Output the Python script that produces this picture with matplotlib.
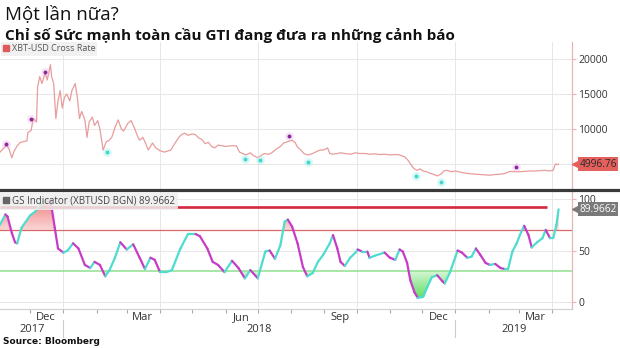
import matplotlib
matplotlib.use("Agg")
import matplotlib.pyplot as plt
import matplotlib.dates as mdates
from matplotlib.collections import LineCollection
from matplotlib.colors import LinearSegmentedColormap
from matplotlib.patches import PathPatch
from matplotlib.path import Path
from matplotlib.lines import Line2D
import numpy as np
import pandas as pd

# ---------------- data ----------------
start_date = "2017-11-03"
xlim_days = (0, 532.5)

price_days = [0, 3, 6, 8, 11, 13, 16, 19, 22, 25, 26, 29, 31, 34, 35, 37, 39, 42, 44, 47,
              48, 50, 52, 54, 56, 58, 60, 62, 65, 67, 70, 72, 74, 76, 79, 81, 83, 86, 88, 91,
              93, 96, 99, 101, 104, 107, 110, 113, 115, 119, 122, 125, 128, 130, 133, 136, 138, 142, 145, 149,
              153, 155, 159, 163, 167, 169, 172, 175, 179, 182, 185, 188, 191, 194, 197, 200, 203, 207, 210, 214,
              220, 223, 226, 229, 233, 236, 240, 243, 246, 250, 253, 257, 261, 264, 268, 272, 275, 277, 280, 283,
              286, 289, 291, 295, 298, 301, 304, 305, 307, 310, 314, 317, 321, 326, 331, 335, 340, 344, 349, 354,
              358, 363, 368, 372, 377, 380, 383, 385, 388, 391, 394, 397, 400, 404, 407, 411, 413, 416, 420, 424,
              428, 433, 438, 442, 447, 452, 456, 461, 466, 470, 475, 479, 484, 489, 493, 498, 503, 507, 512, 515,
              517, 519, 520]
price_vals = [6700, 7200, 7700, 7300, 5900, 6800, 7600, 8100, 8200, 8300,
              9500, 9800, 11500, 11000, 16000, 17500, 16500, 18000, 17000, 19200,
              17500, 16500, 11500, 14000, 15500, 13000, 14500, 15000, 14000, 15500,
              16500, 14500, 11500, 12500, 11300, 8800, 11000, 11700, 10500, 11200,
              10000, 7000, 8200, 8300, 8800, 10200, 11300, 10000, 9700, 10800,
              11200, 10200, 9000, 8400, 8800, 7800, 7000, 8000, 7300, 6900,
              6700, 6800, 7000, 8000, 8900, 9200, 9400, 9100, 9300, 9200,
              8700, 8500, 7900, 8100, 7500, 7300, 7700, 7600, 7500, 7600,
              7600, 6700, 6500, 6300, 6600, 6200, 5900, 6200, 6500, 6400,
              6600, 7100, 7500, 8000, 8200, 8400, 8000, 7400, 7000, 6500,
              6300, 6400, 6500, 6800, 7000, 7000, 7200, 7300, 6500, 6400,
              6500, 6600, 6500, 6400, 6600, 6500, 6500, 6400, 6450, 6350,
              6400, 6300, 6350, 6300, 6000, 5500, 4800, 4400, 4100, 4300,
              4000, 3900, 3700, 3500, 3300, 3600, 4000, 4100, 3900, 4000,
              3850, 3700, 3600, 3550, 3500, 3450, 3400, 3500, 3550, 3650,
              3950, 3900, 3900, 3950, 4000, 4000, 4050, 4100, 4000, 4100,
              5000, 4900, 4996.76]

overbought_days = [6, 29, 42, 269, 480]
overbought_vals = [7860, 11430, 18140, 9000, 4570]
oversold_days = [100, 228, 242, 287, 387, 411]
oversold_vals = [6710, 5710, 5570, 5290, 3290, 2430]

gs_days = [0, 5, 7, 11, 14, 16, 20, 28, 33, 37, 42, 45, 47, 51, 54, 59, 63, 68, 73, 79,
           84, 88, 93, 98, 102, 107, 112, 118, 124, 130, 135, 140, 144, 149, 155, 160, 168, 175, 182, 186,
           193, 198, 203, 209, 216, 222, 228, 233, 240, 247, 251, 256, 261, 265, 268, 272, 277, 282, 286, 291,
           296, 301, 307, 310, 314, 317, 321, 326, 331, 333, 337, 342, 344, 349, 358, 363, 368, 372, 375, 379,
           382, 386, 389, 394, 398, 402, 407, 412, 414, 419, 424, 426, 430, 435, 439, 443, 447, 452, 456, 461,
           466, 470, 473, 477, 481, 484, 488, 492, 495, 500, 505, 508, 512, 515, 518, 520]
gs_vals = [75, 85, 83, 67, 58, 57, 72, 84, 88, 94, 99, 100, 99, 72, 52, 48, 50, 57, 52, 36,
           33, 39, 36, 25, 31, 43, 58, 51, 56, 43, 32, 43, 41, 29, 29, 31, 52, 66, 66, 64,
           52, 39, 36, 29, 40, 33, 23, 31, 23, 49, 50, 42, 55, 78, 80, 73, 57, 34, 25, 28,
           39, 46, 57, 65, 52, 39, 35, 43, 48, 51, 49, 49, 43, 45, 48, 43, 41, 51, 49, 38,
           21, 9, 4, 5, 15, 24, 26, 20, 18, 29, 44, 50, 48, 43, 44, 52, 46, 38, 36, 37,
           33, 32, 32, 49, 57, 65, 74, 65, 53, 58, 62, 70, 62, 62, 75, 89.9662]

level_high = 92
level_high_end_day = 509
level_upper = 70
level_lower = 30

price_ticks = [5000, 10000, 15000, 20000]
price_ticklabels = ["", "10000", "15000", "20000"]
gs_ticks = [0, 50, 100]

title1 = "Một lần nữa?"
title2 = "Chỉ số Sức mạnh toàn cầu GTI đang đưa ra những cảnh báo"
legend1 = "XBT-USD Cross Rate"
legend2 = "GS Indicator (XBTUSD BGN) 89.9662"
source = "Source: Bloomberg"
price_last_label = "4996.76"
gs_last_label = "89.9662"
year_labels = ["2017", "2018", "2019"]

# ---------------- helpers ----------------
t0 = pd.Timestamp(start_date)
def to_dates(days):
    return mdates.date2num(t0 + pd.to_timedelta(np.asarray(days, dtype=float), unit="D"))

px = to_dates(price_days)
gx = to_dates(gs_days)
gy = np.asarray(gs_vals, dtype=float)
xl = to_dates(xlim_days)

TICKFONT = "Open Sans"
GRID = "#e7e7e7"
SPINE_R = "#e9b4b4"

W, H = 620, 348
fig = plt.figure(figsize=(W / 100, H / 100), dpi=100)
ax1 = fig.add_axes([0, 1 - 189 / H, 572 / W, (189 - 42) / H])
ax2 = fig.add_axes([0, 1 - 309 / H, 572 / W, (309 - 191) / H])

for ax in (ax1, ax2):
    ax.set_xlim(xl)
    for s in ("left", "top"):
        ax.spines[s].set_visible(False)
    ax.spines["right"].set_color(SPINE_R)
    ax.spines["right"].set_linewidth(0.9)
    ax.yaxis.tick_right()
    ax.tick_params(axis="y", which="both", direction="out", length=3, color=SPINE_R,
                   labelsize=7.5, labelcolor="#333333", pad=1.5)
    ax.grid(True, axis="y", color=GRID, lw=0.7, zorder=0)
    ax.set_axisbelow(True)
    for d in mdates.date2num(pd.to_datetime(["2018-01-01", "2018-04-01", "2018-07-01",
                                              "2018-10-01", "2019-01-01", "2019-04-01"])):
        ax.axvline(d, color=GRID, lw=0.7, zorder=0)

# ---------------- top panel ----------------
ax1.set_ylim(1430, 22430)
ax1.spines["bottom"].set_visible(False)
ax1.plot(px, price_vals, color="#e89c9c", lw=0.9, zorder=3)
ax1.scatter(to_dates(overbought_days), overbought_vals, s=40, color="#eab0ea", alpha=0.35, lw=0, zorder=4)
ax1.scatter(to_dates(overbought_days), overbought_vals, s=8, color="#8a2a9a", lw=0, zorder=5)
ax1.scatter(to_dates(oversold_days), oversold_vals, s=40, color="#a8f0ea", alpha=0.45, lw=0, zorder=4)
ax1.scatter(to_dates(oversold_days), oversold_vals, s=8, color="#3fd8cc", lw=0, zorder=5)
ax1.set_yticks(price_ticks)
ax1.set_yticklabels(price_ticklabels, family=TICKFONT)
ax1.tick_params(axis="x", which="both", length=0, labelbottom=False)

leg1 = ax1.legend(handles=[Line2D([], [], marker="s", ls="none", color="#e05a5a", markersize=4.5)],
                  labels=[legend1], loc="upper left", bbox_to_anchor=(0.002, 1.0),
                  frameon=True, fancybox=False, handlelength=0.6, handletextpad=0.3,
                  borderpad=0.25, borderaxespad=0.0,
                  prop={"family": TICKFONT, "size": 6.5})
leg1.get_frame().set_facecolor("#f0f0f0")
leg1.get_frame().set_edgecolor("none")
leg1.get_frame().set_alpha(0.9)
for t in leg1.get_texts():
    t.set_color("#555555")

# last price tag
ytr1 = ax1.get_yaxis_transform()
ax1.plot([1.009], [price_vals[-1]], marker="<", markersize=7, color="#e4605c", ls="none",
         transform=ytr1, clip_on=False, zorder=6)
ax1.text(1.013, price_vals[-1], price_last_label, transform=ytr1, va="center", ha="left",
         fontsize=7.3, family=TICKFONT, color="#2a2a2a", clip_on=False, zorder=7,
         bbox=dict(boxstyle="square,pad=0.15", fc="#e4605c", ec="none"))

# ---------------- bottom panel ----------------
ax2.spines["bottom"].set_color("#cfcfcf")
ax2.set_yticks(gs_ticks)
ax2.set_yticklabels([str(v) for v in gs_ticks], family=TICKFONT)


def grad_fill(ax, x, y, base, above, c_far, c_near, far_val):
    poly = ax.fill_between(x, y, base, where=(y > base) if above else (y < base),
                           interpolate=True, color="none", lw=0)
    lo, hi = (base, far_val) if above else (far_val, base)
    vals = np.linspace(0, 1, 64)
    if above:
        vals = vals[::-1]
    cmap = LinearSegmentedColormap.from_list("g", [c_near, c_far])
    img = ax.imshow(vals.reshape(-1, 1), cmap=cmap, aspect="auto", origin="upper",
                    extent=[x[0], x[-1], lo, hi], zorder=1, interpolation="bilinear")
    paths = poly.get_paths()
    if paths:
        verts = np.concatenate([p.vertices for p in paths])
        codes = np.concatenate([p.codes if p.codes is not None else
                                np.r_[Path.MOVETO, [Path.LINETO] * (len(p.vertices) - 1)]
                                for p in paths])
        patch = PathPatch(Path(verts, codes), transform=ax.transData, fc="none", ec="none")
        ax.add_patch(patch)
        img.set_clip_path(patch)


grad_fill(ax2, gx, gy, level_upper, True, "#f07c7c", "#fbd6d6", 101)
grad_fill(ax2, gx, gy, level_lower, False, "#5fdc5f", "#d4f7d4", 3)
ax2.set_xlim(xl)
ax2.set_ylim(-6.8, 107.8)

ax2.axhline(level_upper, color="#d86868", lw=0.9, zorder=2)
ax2.axhline(level_lower, color="#8fe08f", lw=1.1, zorder=2)
ax2.plot([xl[0], to_dates([level_high_end_day])[0]], [level_high, level_high],
         color="#d4283f", lw=1.9, zorder=2, solid_capstyle="butt")

# direction-coloured indicator line
pts = np.column_stack([gx, gy])
segs = np.stack([pts[:-1], pts[1:]], axis=1)
cols = ["#4fdccf" if b >= a else "#c63cc6" for a, b in zip(gy[:-1], gy[1:])]
lc = LineCollection(segs, colors=cols, linewidths=1.6, zorder=4, capstyle="round", joinstyle="round")
ax2.add_collection(lc)

leg2 = ax2.legend(handles=[Line2D([], [], marker="s", ls="none", color="#666666", markersize=4.5)],
                  labels=[legend2], loc="upper left", bbox_to_anchor=(0.0, 0.985),
                  frameon=True, fancybox=False, handlelength=0.6, handletextpad=0.3,
                  borderpad=0.3, borderaxespad=0.0,
                  prop={"family": TICKFONT, "size": 7})
leg2.get_frame().set_facecolor("#eeeeee")
leg2.get_frame().set_edgecolor("none")
leg2.get_frame().set_alpha(0.85)
for t in leg2.get_texts():
    t.set_color("#444444")

ytr2 = ax2.get_yaxis_transform()
ax2.plot([1.009], [gs_vals[-1]], marker="<", markersize=7, color="#7a7a7a", ls="none",
         transform=ytr2, clip_on=False, zorder=6)
ax2.text(1.013, gs_vals[-1], gs_last_label, transform=ytr2, va="center", ha="left",
         fontsize=7.3, family=TICKFONT, color="white", clip_on=False, zorder=7,
         bbox=dict(boxstyle="square,pad=0.15", fc="#7a7a7a", ec="none"))

# x axis: monthly ticks, quarterly labels mid-month
ax2.xaxis.set_major_locator(mdates.MonthLocator())
ax2.xaxis.set_major_formatter(plt.NullFormatter())
ax2.xaxis.set_minor_locator(mdates.MonthLocator(bymonth=[3, 6, 9, 12], bymonthday=16))
ax2.xaxis.set_minor_formatter(mdates.DateFormatter("%b"))
ax2.tick_params(axis="x", which="major", length=3, color="#aaaaaa", direction="out")
ax2.tick_params(axis="x", which="minor", length=0, pad=2, labelsize=8, labelcolor="#333333")
for lab in ax2.get_xticklabels(minor=True):
    lab.set_family(TICKFONT)

# year labels and separators
xtr2 = ax2.get_xaxis_transform()
jan18, jan19 = mdates.date2num(pd.to_datetime(["2018-01-01", "2019-01-01"]))
year_pos = [(xl[0] + jan18) / 2, (jan18 + jan19) / 2, (jan19 + xl[1]) / 2]
for lbl, xpos in zip(year_labels, year_pos):
    ax2.text(xpos, -0.17, lbl, transform=xtr2, ha="center", va="center", fontsize=8,
             family=TICKFONT, color="#333333", clip_on=False)
for xpos in (jan18, jan19):
    ax2.plot([xpos, xpos], [-0.095, -0.235], transform=xtr2, color="#cccccc", lw=0.8, clip_on=False)

# separator bar between panels
fig.add_artist(Line2D([0, 1], [1 - 190 / H, 1 - 190 / H], transform=fig.transFigure,
                      color="#3a3a3a", lw=2.3, zorder=10))

# titles and source
fig.text(5 / W, 1 - 19 / H, title1, ha="left", va="baseline", fontsize=13.5,
         family="Open Sans", color="#111111")
fig.text(5 / W, 1 - 40 / H, title2, ha="left", va="baseline", fontsize=11,
         family="Open Sans", weight="bold", color="#111111")
fig.text(3 / W, 1 - 341 / H, source, ha="left", va="center", fontsize=6.5,
         family="DejaVu Sans", weight="bold", color="#111111")

fig.savefig("out.png", dpi=100)
